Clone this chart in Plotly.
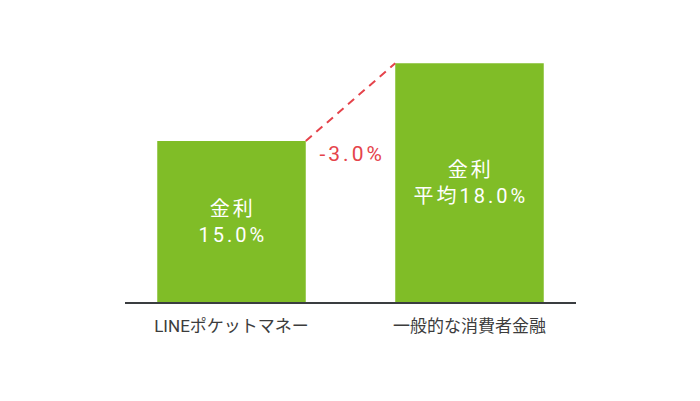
import plotly.graph_objects as go

categories = ["LINEポケットマネー", "一般的な消費者金融"]
rates = [15.0, 18.0]
bar_labels = ["金利<br>15.0%", "金利<br>平均18.0%"]
diff_label = "-3.0%"

FONT = "Roboto, 'Noto Sans CJK JP', sans-serif"
x_pos = [0, 1]
bar_w = 0.624
half = bar_w / 2
y_min, y_max = 8.784, 18.9

fig = go.Figure()
fig.add_trace(go.Bar(
    x=x_pos, y=rates, width=bar_w,
    marker=dict(color="#80bd27", line=dict(width=0)),
    hoverinfo="skip", showlegend=False,
))
for xv, rv, lab in zip(x_pos, rates, bar_labels):
    fig.add_annotation(
        x=xv, y=(y_min + rv) / 2, text=lab, showarrow=False, xshift=1.5,
        font=dict(color="white", size=20, family=FONT),
    )
fig.add_trace(go.Scatter(
    x=[x_pos[0] + half, x_pos[1] - half], y=rates, mode="lines",
    line=dict(color="#e5434b", width=2, dash="8px,6px"),
    hoverinfo="skip", showlegend=False,
))
fig.add_annotation(
    x=0.5, y=14.5, text=diff_label, showarrow=False, xshift=1.5,
    font=dict(color="#e5434b", size=21, family=FONT),
)

fig.update_layout(
    width=700, height=401,
    margin=dict(l=117, r=132, t=32, b=107),
    paper_bgcolor="white", plot_bgcolor="white",
    xaxis=dict(
        range=[-0.4475, 1.4475], tickvals=x_pos, ticktext=categories,
        showline=True, linecolor="#3a3d40", linewidth=2, showgrid=False,
        zeroline=False, ticks="", ticklabelstandoff=8,
        tickfont=dict(size=17, color="#3c3c3c", family=FONT),
        fixedrange=True,
    ),
    yaxis=dict(range=[y_min, y_max], visible=False, showgrid=False, zeroline=False),
)

post = """
document.querySelectorAll('.annotation-text').forEach(function(e){e.style.letterSpacing='3px';});
"""
fig.write_html("out.html", post_script=post)
